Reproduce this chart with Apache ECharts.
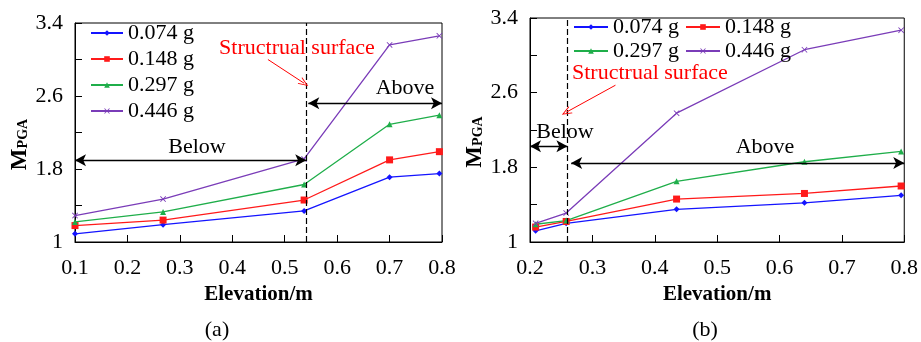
<!DOCTYPE html>
<html>
<head>
<meta charset="utf-8">
<script src="https://cdn.jsdelivr.net/npm/echarts@6/dist/echarts.min.js"></script>
<style>
  html, body { margin: 0; padding: 0; background: #fff; }
  #mychart { width: 921px; height: 342px; }
</style>
</head>
<body>
<div id="mychart"></div>
<script>
// series names (PGA levels)
const seriesNames = ['0.074 g', '0.148 g', '0.297 g', '0.446 g']

// (a) elevations and M_PGA values
const elevA = [0.1, 0.268, 0.537, 0.70, 0.795]
const a074 = [1.09, 1.19, 1.34, 1.71, 1.75]
const a148 = [1.18, 1.24, 1.46, 1.90, 1.99]
const a297 = [1.22, 1.33, 1.63, 2.29, 2.39]
const a446 = [1.29, 1.47, 1.91, 3.16, 3.26]
const surfaceA = 0.541

// (b) elevations and M_PGA values
const elevB = [0.209, 0.258, 0.435, 0.64, 0.795]
const b074 = [1.12, 1.20, 1.35, 1.42, 1.50]
const b148 = [1.16, 1.22, 1.46, 1.52, 1.60]
const b297 = [1.19, 1.23, 1.65, 1.86, 1.97]
const b446 = [1.20, 1.31, 2.38, 3.06, 3.27]
const surfaceB = 0.26

// y ticks
const yTicks = [1, 1.4, 1.8, 2.2, 2.6, 3.0, 3.4]
const yLabels = [1, 1.8, 2.6, 3.4]

const colors = ['#1414ff', '#ff1a1a', '#1fae4a', '#7a3cb8']
const symbols = ['diamond', 'rect', 'triangle',
  'path://M0,1L1,0L5,4L9,0L10,1L6,5L10,9L9,10L5,6L1,10L0,9L4,5Z']
const symbolSizes = [6, 7, 6, 6]
const serif = 'Liberation Serif'
const chevron = 'path://M5,0L10,10L8.8,10L5,2.4L1.2,10L0,10Z'

function pairs (xs, ys) {
  return xs.map((x, i) => [x, ys[i]])
}

function makeSeries (idx, xs, valuesList, marks) {
  return valuesList.map((vals, i) => {
    let s = {
      name: seriesNames[i],
      type: 'line',
      xAxisIndex: idx,
      yAxisIndex: idx,
      data: pairs(xs, vals),
      color: colors[i],
      symbol: symbols[i],
      symbolSize: symbolSizes[i],
      lineStyle: { width: 1.3 },
      z: 3
    }
    if (i === 0) s.markLine = marks
    return s
  })
}

function xAxisOf (idx, min) {
  return {
    type: 'value',
    gridIndex: idx,
    min: min,
    max: 0.8,
    interval: 0.1,
    name: 'Elevation/m',
    nameLocation: 'middle',
    nameGap: 32,
    nameTextStyle: { fontFamily: serif, fontSize: 21, fontWeight: 'bold', color: '#000' },
    axisLine: { lineStyle: { color: '#000', width: 1 } },
    axisTick: { inside: true, length: 7, lineStyle: { color: '#000' } },
    axisLabel: { fontFamily: serif, fontSize: 22, color: '#000', margin: 15 },
    splitLine: { show: false }
  }
}

function yAxisOf (idx) {
  return {
    type: 'value',
    gridIndex: idx,
    min: 1,
    max: 3.4,
    name: '{m|M}{s|PGA}',
    nameLocation: 'middle',
    nameRotate: 90,
    nameGap: 42,
    nameTextStyle: {
      color: '#000',
      padding: [0, 0, 0, -24],
      rich: {
        m: { fontFamily: serif, fontSize: 23, fontWeight: 'bold', color: '#000' },
        s: { fontFamily: serif, fontSize: 14, fontWeight: 'bold', color: '#000', padding: [7, 0, 0, 0] }
      }
    },
    axisLine: { lineStyle: { color: '#000', width: 1 } },
    axisTick: { inside: true, length: 7, customValues: yTicks, lineStyle: { color: '#000' } },
    axisLabel: { fontFamily: serif, fontSize: 22, color: '#000', margin: 12, customValues: yLabels },
    splitLine: { show: false }
  }
}

function marksOf (surface, xMin, below, above, red) {
  return {
    silent: true,
    symbol: ['arrow', 'arrow'],
    symbolSize: [9, 11],
    label: { show: false },
    lineStyle: { color: '#000', type: 'solid', width: 1.3 },
    data: [
      [{ xAxis: surface, yAxis: 1, symbol: 'none', lineStyle: { type: [6, 3], color: '#000', width: 1.2 } },
        { xAxis: surface, yAxis: 3.4, symbol: 'none' }],
      [{ coord: [xMin, below] }, { coord: [surface, below] }],
      [{ coord: [above[0], above[1]] }, { coord: [0.8, above[1]] }],
      [{ coord: red[0], symbol: 'none', lineStyle: { color: '#ff0000', width: 1, type: 'solid' } },
        { coord: red[1], symbol: chevron, symbolSize: [8, 10] }]
    ]
  }
}

function txt (x, y, text, opts) {
  return {
    type: 'text',
    x: x,
    y: y,
    style: Object.assign({
      text: text,
      fontFamily: serif,
      fontSize: 22,
      fill: '#000',
      align: 'center',
      verticalAlign: 'middle'
    }, opts || {})
  }
}

const legendText = { fontFamily: serif, fontSize: 22, color: '#000' }

let myChart = echarts.init(document.getElementById('mychart'))
myChart.setOption({
  animation: false,
  backgroundColor: '#fff',
  grid: [
    { left: 75, right: 479, top: 23, bottom: 100, show: true, borderColor: '#000', borderWidth: 1 },
    { left: 530, right: 14, top: 18, bottom: 100, show: true, borderColor: '#000', borderWidth: 1 }
  ],
  legend: [
    {
      data: seriesNames,
      orient: 'vertical',
      left: 85,
      top: 17,
      itemWidth: 32,
      itemHeight: 7,
      itemGap: 4,
      textStyle: legendText
    },
    {
      data: seriesNames.slice(0, 2),
      left: 568,
      top: 11,
      itemWidth: 34,
      itemHeight: 7,
      itemGap: 6,
      textStyle: legendText
    },
    {
      data: seriesNames.slice(2),
      left: 568,
      top: 35,
      itemWidth: 34,
      itemHeight: 7,
      itemGap: 6,
      textStyle: legendText
    }
  ],
  xAxis: [xAxisOf(0, 0.1), xAxisOf(1, 0.2)],
  yAxis: [yAxisOf(0), yAxisOf(1)],
  series: [].concat(
    makeSeries(0, elevA, [a074, a148, a297, a446],
      marksOf(surfaceA, 0.1, 1.895, [0.545, 2.52], [[0.468, 3.0], [0.537, 2.74]])),
    makeSeries(1, elevB, [b074, b148, b297, b446],
      marksOf(surfaceB, 0.2, 2.026, [0.266, 1.847], [[0.337, 2.68], [0.258, 2.39]]))
  ),
  graphic: [
    txt(297, 48, 'Structrual surface', { fill: '#ff0000' }),
    txt(197, 147, 'Below'),
    txt(405, 88, 'Above'),
    txt(572, 73, 'Structrual surface', { fill: '#ff0000', align: 'left' }),
    txt(565, 132, 'Below'),
    txt(765, 147, 'Above'),
    txt(217, 330, '(a)'),
    txt(705, 330, '(b)')
  ]
})
</script>
</body>
</html>
